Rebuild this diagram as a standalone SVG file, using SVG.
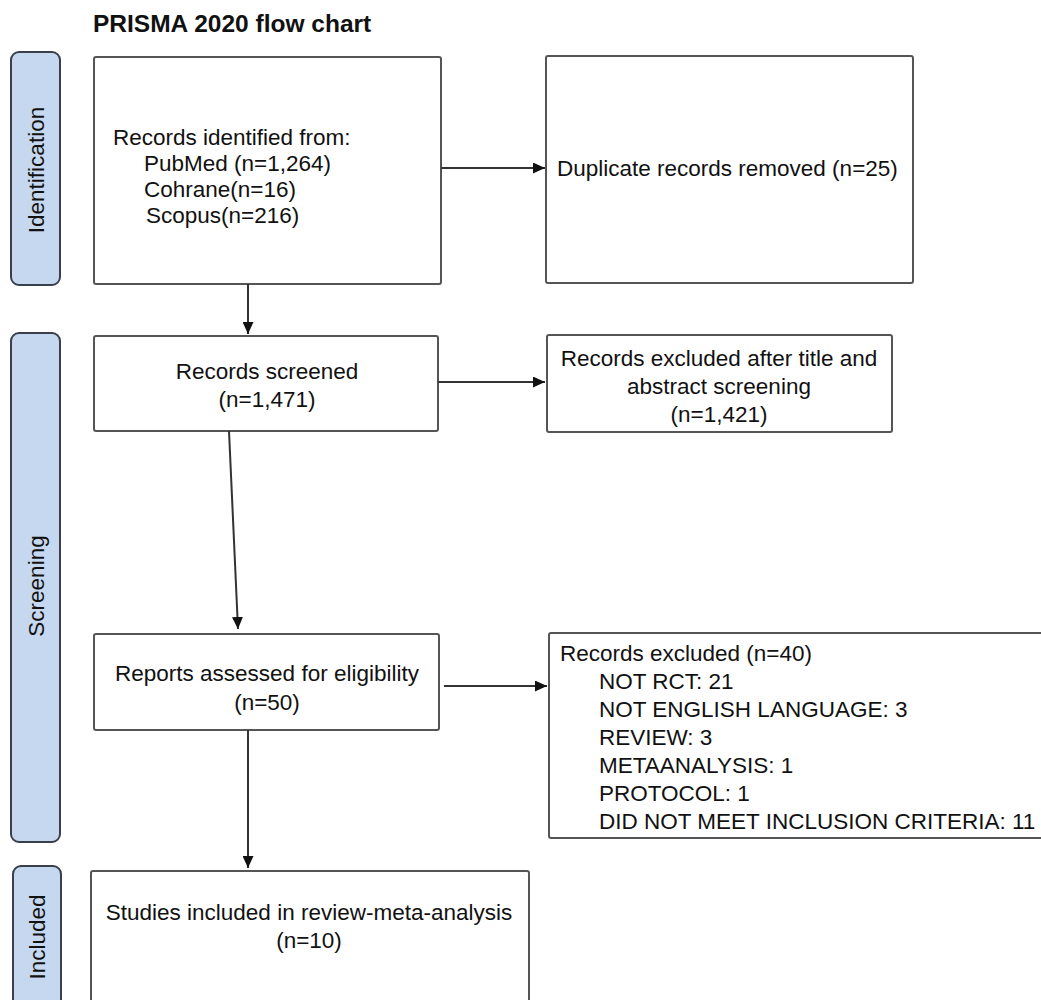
<svg xmlns="http://www.w3.org/2000/svg" width="1041" height="1000" viewBox="0 0 1041 1000">
<style>
.box{fill:#ffffff;stroke:#555555;stroke-width:2}
.side{fill:#c6d8ef;stroke:#3a3f4c;stroke-width:2}
.t{font-family:"Liberation Sans",Arial,sans-serif;font-size:22.5px;fill:#111111}
.c{text-anchor:middle}
.title{font-family:"Liberation Sans",Arial,sans-serif;font-size:24.5px;font-weight:bold;fill:#111111}
.con{stroke:#333333;stroke-width:2;fill:none;marker-end:url(#ah)}
</style>
<defs>
<marker id="ah" viewBox="0 0 12 11" refX="12" refY="5.5" markerWidth="12" markerHeight="11" markerUnits="userSpaceOnUse" orient="auto">
<path d="M0,0 L12,5.5 L0,11 z" fill="#111111"/>
</marker>
</defs>
<rect width="1041" height="1000" fill="#ffffff"/>
<text class="title" x="93" y="32">PRISMA 2020 flow chart</text>

<g id="side-identification">
<rect class="side" x="11" y="52" width="49" height="233" rx="8"/>
<text class="t c" transform="translate(44,170) rotate(-90)">Identification</text>
</g>
<g id="side-screening">
<rect class="side" x="11" y="333" width="49" height="509" rx="8"/>
<text class="t c" transform="translate(44,586) rotate(-90)">Screening</text>
</g>
<g id="side-included">
<rect class="side" x="13" y="866" width="48" height="150" rx="8"/>
<text class="t c" transform="translate(45,937) rotate(-90)">Included</text>
</g>

<g id="records-identified">
<rect class="box" x="94" y="57" width="347" height="227" rx="2"/>
<text class="t" x="113" y="145">Records identified from:</text>
<text class="t" x="144" y="171">PubMed (n=1,264)</text>
<text class="t" x="144" y="197">Cohrane(n=16)</text>
<text class="t" x="146" y="223">Scopus(n=216)</text>
</g>
<g id="duplicates">
<rect class="box" x="546" y="56" width="367" height="227" rx="2"/>
<text class="t" x="557" y="176">Duplicate records removed (n=25)</text>
</g>
<g id="records-screened">
<rect class="box" x="94" y="336" width="344" height="95" rx="2"/>
<text class="t c" x="267" y="379">Records screened</text>
<text class="t c" x="267" y="407">(n=1,471)</text>
</g>
<g id="excluded-title">
<rect class="box" x="547" y="335" width="345" height="97" rx="2"/>
<text class="t c" x="719" y="366">Records excluded after title and</text>
<text class="t c" x="719" y="394">abstract screening</text>
<text class="t c" x="719" y="422">(n=1,421)</text>
</g>
<g id="reports-assessed">
<rect class="box" x="94" y="634" width="345" height="96" rx="2"/>
<text class="t c" x="267" y="681">Reports assessed for eligibility</text>
<text class="t c" x="267" y="710">(n=50)</text>
</g>
<g id="records-excluded">
<rect class="box" x="549" y="633" width="500" height="205" rx="2"/>
<text class="t" x="560" y="661">Records excluded (n=40)</text>
<text class="t" x="599" y="689">NOT RCT: 21</text>
<text class="t" x="599" y="717">NOT ENGLISH LANGUAGE: 3</text>
<text class="t" x="599" y="745">REVIEW: 3</text>
<text class="t" x="599" y="773">METAANALYSIS: 1</text>
<text class="t" x="599" y="801">PROTOCOL: 1</text>
<text class="t" x="599" y="829">DID NOT MEET INCLUSION CRITERIA: 11</text>
</g>
<g id="studies-included">
<rect class="box" x="91" y="871" width="438" height="150" rx="2"/>
<text class="t c" x="309" y="920">Studies included in review-meta-analysis</text>
<text class="t c" x="309" y="948">(n=10)</text>
</g>

<g id="connectors">
<line class="con" x1="441" y1="168" x2="545" y2="168"/>
<line class="con" x1="248" y1="284" x2="248" y2="334"/>
<line class="con" x1="438" y1="382" x2="545" y2="382"/>
<line class="con" x1="229" y1="431" x2="238" y2="629"/>
<line class="con" x1="444" y1="686" x2="547" y2="686"/>
<line class="con" x1="248" y1="730" x2="248" y2="868"/>
</g>
</svg>
